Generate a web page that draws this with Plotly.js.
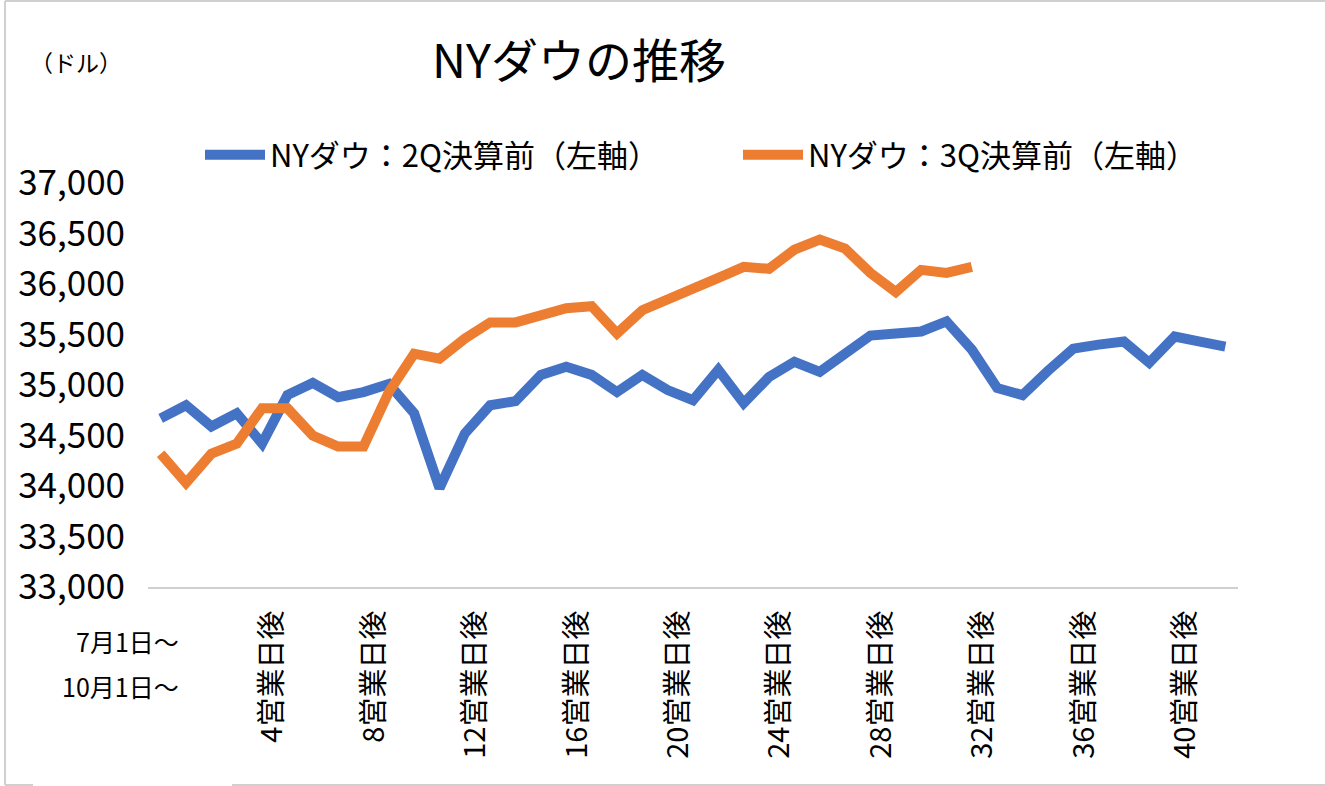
<!DOCTYPE html>
<html>
<head>
<meta charset="utf-8">
<script src="https://cdn.plot.ly/plotly-3.0.1.min.js"></script>
<style>
  html, body { margin: 0; padding: 0; background: #ffffff; }
  #chart { width: 1325px; height: 786px; }
</style>
</head>
<body>
<div id="chart"></div>
<script>
// ---- data ----
const categories = [
  "7月1日～/10月1日～",
  "1営業日後", "2営業日後", "3営業日後", "4営業日後", "5営業日後",
  "6営業日後", "7営業日後", "8営業日後", "9営業日後", "10営業日後",
  "11営業日後", "12営業日後", "13営業日後", "14営業日後", "15営業日後",
  "16営業日後", "17営業日後", "18営業日後", "19営業日後", "20営業日後",
  "21営業日後", "22営業日後", "23営業日後", "24営業日後", "25営業日後",
  "26営業日後", "27営業日後", "28営業日後", "29営業日後", "30営業日後",
  "31営業日後", "32営業日後", "33営業日後", "34営業日後", "35営業日後",
  "36営業日後", "37営業日後", "38営業日後", "39営業日後", "40営業日後",
  "41営業日後", "42営業日後"
];
const startLabels = ["7月1日～", "10月1日～"];
const tickLabels = [
  "4営業日後", "8営業日後", "12営業日後", "16営業日後", "20営業日後",
  "24営業日後", "28営業日後", "32営業日後", "36営業日後", "40営業日後"
];
const seriesNames = ["NYダウ：2Q決算前（左軸）", "NYダウ：3Q決算前（左軸）"];
const dow2Q = [
  34670, 34800, 34590, 34720, 34420, 34900, 35020, 34880, 34930, 35010,
  34720, 33980, 34520, 34800, 34840, 35100, 35180, 35100, 34930, 35100,
  34950, 34850, 35150, 34820, 35080, 35230, 35130, 35300, 35490, 35510,
  35530, 35630, 35350, 34970, 34900, 35140, 35360, 35400, 35430, 35220,
  35480, 35430, 35380
];
const dow3Q = [
  34320, 34030, 34320, 34420, 34770, 34770, 34500, 34390, 34390, 34930,
  35310, 35260, 35460, 35620, 35620, 35690, 35760, 35780, 35510, 35740,
  35840, 35940, 36060, 36170, 36150, 36340, 36440, 36350, 36110, 35920,
  36140, 36110, 36170
];
const titleText = "NYダウの推移";
const unitText = "（ドル）";

// ---- chart ----
const FONT = "Noto Sans CJK JP, Noto Sans, sans-serif";
const L = 148, R = 87, T = 183, B = 199, W = 1325, H = 786;
const PW = W - L - R, PH = H - T - B;
const px = v => (v - L) / PW;            // pixel x -> paper x
const py = v => (H - B - v) / PH;        // pixel y -> paper y

const traces = [
  {
    type: "scatter", mode: "lines", name: seriesNames[0],
    x: categories.slice(0, dow2Q.length), y: dow2Q,
    line: { color: "#4472C4", width: 10 }
  },
  {
    type: "scatter", mode: "lines", name: seriesNames[1],
    x: categories.slice(0, dow3Q.length), y: dow3Q,
    line: { color: "#ED7D31", width: 10 }
  }
];

const gray = "#d0d0d0";
const layout = {
  width: W, height: H,
  margin: { l: L, r: R, t: T, b: B, pad: 0, autoexpand: false },
  paper_bgcolor: "#ffffff", plot_bgcolor: "#ffffff",
  font: { family: FONT, color: "#000000" },
  showlegend: true,
  hovermode: false,
  title: {
    text: titleText,
    font: { family: FONT, size: 47, color: "#000000" },
    xref: "paper", x: px(579), xanchor: "center",
    yref: "container", y: 1 - 62 / H, yanchor: "middle"
  },
  legend: {
    orientation: "h",
    xref: "paper", x: px(200), xanchor: "left",
    yref: "paper", y: py(155), yanchor: "middle",
    font: { family: FONT, size: 31, color: "#000000" },
    entrywidth: 463, entrywidthmode: "pixels",
    itemwidth: 60,
    bgcolor: "rgba(0,0,0,0)"
  },
  xaxis: {
    type: "category",
    categoryorder: "array", categoryarray: categories,
    range: [-0.5, categories.length - 0.5],
    tickmode: "array", tickvals: tickLabels, ticktext: tickLabels,
    tickangle: -90,
    tickfont: { family: FONT, size: 29, color: "#000000" },
    ticks: "", ticklabelstandoff: 10, ticklabelshift: 11,
    showgrid: false, zeroline: false,
    showline: true, linecolor: gray, linewidth: 2
  },
  yaxis: {
    range: [33000, 37000],
    tickmode: "linear", tick0: 33000, dtick: 500,
    tickformat: ",d",
    tickfont: { family: FONT, size: 35, color: "#000000" },
    ticks: "", ticklabelstandoff: 22,
    showgrid: false, zeroline: false, showline: false
  },
  annotations: [
    { text: unitText, xref: "paper", yref: "paper", x: px(76), y: py(62),
      xanchor: "center", yanchor: "middle", showarrow: false,
      font: { family: FONT, size: 23, color: "#000000" } },
    { text: startLabels[0], xref: "paper", yref: "paper", x: px(181), y: py(641),
      xanchor: "right", yanchor: "middle", showarrow: false,
      font: { family: FONT, size: 25, color: "#000000" } },
    { text: startLabels[1], xref: "paper", yref: "paper", x: px(181), y: py(686),
      xanchor: "right", yanchor: "middle", showarrow: false,
      font: { family: FONT, size: 25, color: "#000000" } }
  ],
  shapes: [
    { type: "line", xref: "paper", yref: "paper", x0: px(5), x1: px(5), y0: py(1), y1: py(785),
      line: { color: gray, width: 2 } },
    { type: "line", xref: "paper", yref: "paper", x0: px(5), x1: px(1325), y0: py(1), y1: py(1),
      line: { color: gray, width: 2 } },
    { type: "line", xref: "paper", yref: "paper", x0: px(5), x1: px(33), y0: py(785), y1: py(785),
      line: { color: gray, width: 2 } },
    { type: "line", xref: "paper", yref: "paper", x0: px(232), x1: px(1325), y0: py(785), y1: py(785),
      line: { color: gray, width: 2 } }
  ]
};

Plotly.newPlot("chart", traces, layout, { staticPlot: true, displayModeBar: false });
</script>
</body>
</html>
